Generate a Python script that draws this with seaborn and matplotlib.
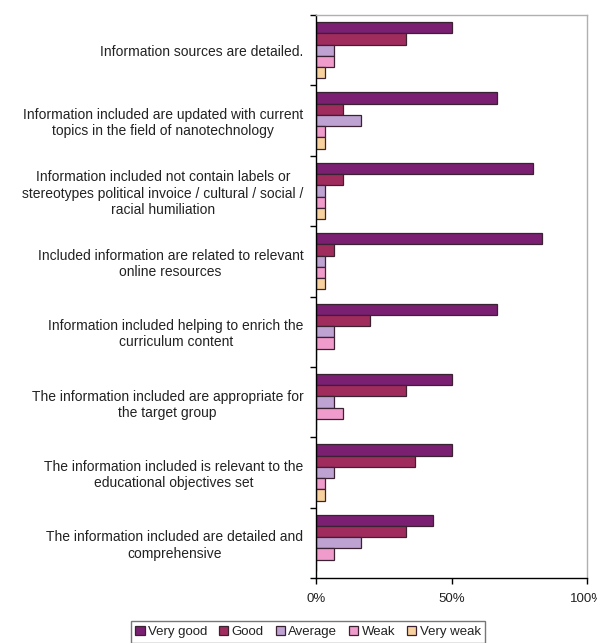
import matplotlib
matplotlib.use("Agg")
import matplotlib.pyplot as plt
from matplotlib.ticker import FixedLocator, PercentFormatter
import pandas as pd
import seaborn as sns

statements = [
    "Information sources are detailed.",
    "Information included are updated with current\ntopics in the field of nanotechnology",
    "Information included not contain labels or\nstereotypes political invoice / cultural / social /\nracial humiliation",
    "Included information are related to relevant\nonline resources",
    "Information included helping to enrich the\ncurriculum content",
    "The information included are appropriate for\nthe target group",
    "The information included is relevant to the\neducational objectives set",
    "The information included are detailed and\ncomprehensive",
]
ratings = ["Very good", "Good", "Average", "Weak", "Very weak"]

very_good = [50.0, 66.7, 80.0, 83.3, 66.7, 50.0, 50.0, 43.3]
good      = [33.3, 10.0, 10.0, 6.7, 20.0, 33.3, 36.7, 33.3]
average   = [6.7, 16.7, 3.3, 3.3, 6.7, 6.7, 6.7, 16.7]
weak      = [6.7, 3.3, 3.3, 3.3, 6.7, 10.0, 3.3, 6.7]
very_weak = [3.3, 3.3, 3.3, 3.3, 0.0, 0.0, 3.3, 0.0]

colors = ["#7a1f72", "#a02c5e", "#bda2d2", "#ef9bcb", "#f8d29e"]

series = [very_good, good, average, weak, very_weak]
rows = []
for rating, vals in zip(ratings, series):
    for s, v in zip(statements, vals):
        rows.append({"statement": s, "rating": rating, "pct": v})
df = pd.DataFrame(rows)

sns.set_style("white")
plt.rcParams["font.family"] = ["Liberation Sans", "DejaVu Sans"]

fig = plt.figure(figsize=(5.97, 6.43), dpi=100)
ax = fig.add_axes([316 / 597, 1 - 578 / 643, (587 - 316) / 597, (578 - 15) / 643])

sns.barplot(
    data=df, y="statement", x="pct", hue="rating",
    order=statements, hue_order=ratings, palette=colors, saturation=1,
    orient="h", width=0.8, errorbar=None, ax=ax,
    edgecolor="#3a2232", linewidth=0.9, legend=True,
)

ax.set_xlim(0, 100)
ax.set_ylim(len(statements) - 0.5, -0.5)
ax.set_xlabel("")
ax.set_ylabel("")

ax.xaxis.set_major_locator(FixedLocator([0, 50, 100]))
ax.xaxis.set_major_formatter(PercentFormatter(decimals=0))
ax.tick_params(axis="x", direction="out", length=4, width=1, color="black",
               labelsize=9.5, labelcolor="#222222", pad=7, bottom=True)

ax.set_yticks(range(len(statements)))
ax.set_yticklabels(statements, multialignment="center")
ax.tick_params(axis="y", which="major", length=0, labelsize=10,
               labelcolor="#222222", pad=9)
ax.yaxis.set_minor_locator(FixedLocator([i - 0.5 for i in range(len(statements) + 1)]))
ax.tick_params(axis="y", which="minor", direction="out", length=4, width=1,
               color="black", left=True)

for side in ("left", "bottom"):
    ax.spines[side].set_color("black")
    ax.spines[side].set_linewidth(1)
for side in ("top", "right"):
    ax.spines[side].set_visible(True)
    ax.spines[side].set_color("#b0b0b0")
    ax.spines[side].set_linewidth(1)

handles, labels = ax.get_legend_handles_labels()
ax.get_legend().remove()
leg = fig.legend(
    handles, labels, loc="center", ncol=5,
    bbox_to_anchor=(308 / 597, 1 - 632 / 643),
    fontsize=9.5, frameon=True, fancybox=False,
    handlelength=0.7, handleheight=0.7, handletextpad=0.25,
    columnspacing=0.9, borderpad=0.35,
)
leg.get_frame().set_edgecolor("#555555")
leg.get_frame().set_linewidth(1)
for t in leg.get_texts():
    t.set_color("#222222")

fig.savefig("out.png", dpi=100)
